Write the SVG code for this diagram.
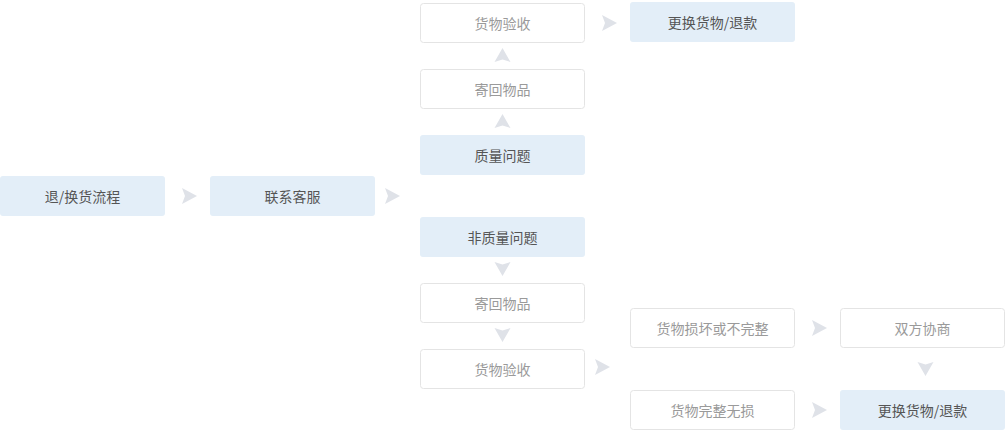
<svg xmlns="http://www.w3.org/2000/svg" width="1008" height="432" viewBox="0 0 1008 432">
<style>
.hl rect{fill:#e3eef8;stroke:none}
.wt rect{fill:#ffffff;stroke:#e4e4e4;stroke-width:1}
text{font-family:"Noto Sans CJK SC","Noto Sans",sans-serif;font-size:14px;text-anchor:middle;dominant-baseline:central}
.hl text{fill:#555555}
.wt text{fill:#9a9a9a}
.arr path{fill:#dfe2e8}
</style>
<defs>
<path id="ar" d="M0,0 L15,8 L0,16 L3,8 Z"/>
</defs>
<rect width="1008" height="432" fill="#ffffff"/>
<g id="n-start" class="hl"><rect x="0" y="176" width="165" height="40" rx="3"/><text x="82.5" y="196">退/换货流程</text></g>
<g id="n-contact" class="hl"><rect x="210" y="176" width="165" height="40" rx="3"/><text x="292.5" y="196">联系客服</text></g>
<g id="n-quality" class="hl"><rect x="420" y="135" width="165" height="40" rx="3"/><text x="502.5" y="155">质量问题</text></g>
<g id="n-send1" class="wt"><rect x="420.5" y="69.5" width="164" height="39" rx="3"/><text x="502.5" y="89">寄回物品</text></g>
<g id="n-check1" class="wt"><rect x="420.5" y="3.5" width="164" height="39" rx="3"/><text x="502.5" y="23">货物验收</text></g>
<g id="n-refund1" class="hl"><rect x="630" y="2" width="165" height="40" rx="3"/><text x="712.5" y="22">更换货物/退款</text></g>
<g id="n-nonquality" class="hl"><rect x="420" y="217" width="165" height="40" rx="3"/><text x="502.5" y="237">非质量问题</text></g>
<g id="n-send2" class="wt"><rect x="420.5" y="283.5" width="164" height="39" rx="3"/><text x="502.5" y="303">寄回物品</text></g>
<g id="n-check2" class="wt"><rect x="420.5" y="349.5" width="164" height="39" rx="3"/><text x="502.5" y="369">货物验收</text></g>
<g id="n-damaged" class="wt"><rect x="630.5" y="308.5" width="164" height="39" rx="3"/><text x="712.5" y="328">货物损坏或不完整</text></g>
<g id="n-intact" class="wt"><rect x="630.5" y="390.5" width="164" height="39" rx="3"/><text x="712.5" y="410">货物完整无损</text></g>
<g id="n-negotiate" class="wt"><rect x="840.5" y="308.5" width="164" height="39" rx="3"/><text x="922.5" y="328">双方协商</text></g>
<g id="n-refund2" class="hl"><rect x="840" y="390" width="165" height="40" rx="3"/><text x="922.5" y="410">更换货物/退款</text></g>
<g id="connectors" class="arr">
<use href="#ar" x="182" y="188" fill="#dfe2e8"/>
<use href="#ar" x="385" y="188" fill="#dfe2e8"/>
<use href="#ar" x="602" y="15" fill="#dfe2e8"/>
<use href="#ar" x="595" y="359" fill="#dfe2e8"/>
<use href="#ar" x="812" y="320" fill="#dfe2e8"/>
<use href="#ar" x="812" y="402" fill="#dfe2e8"/>
<path d="M502.5,48 L510.5,62 L502.5,59.5 L494.5,62 Z"/>
<path d="M502.5,114 L510.5,128 L502.5,125.5 L494.5,128 Z"/>
<path d="M502.5,276 L510.5,262 L502.5,264.5 L494.5,262 Z"/>
<path d="M502.5,342 L510.5,328 L502.5,330.5 L494.5,328 Z"/>
<path d="M925.5,376 L933.5,362 L925.5,364.5 L917.5,362 Z"/>
</g>
</svg>
